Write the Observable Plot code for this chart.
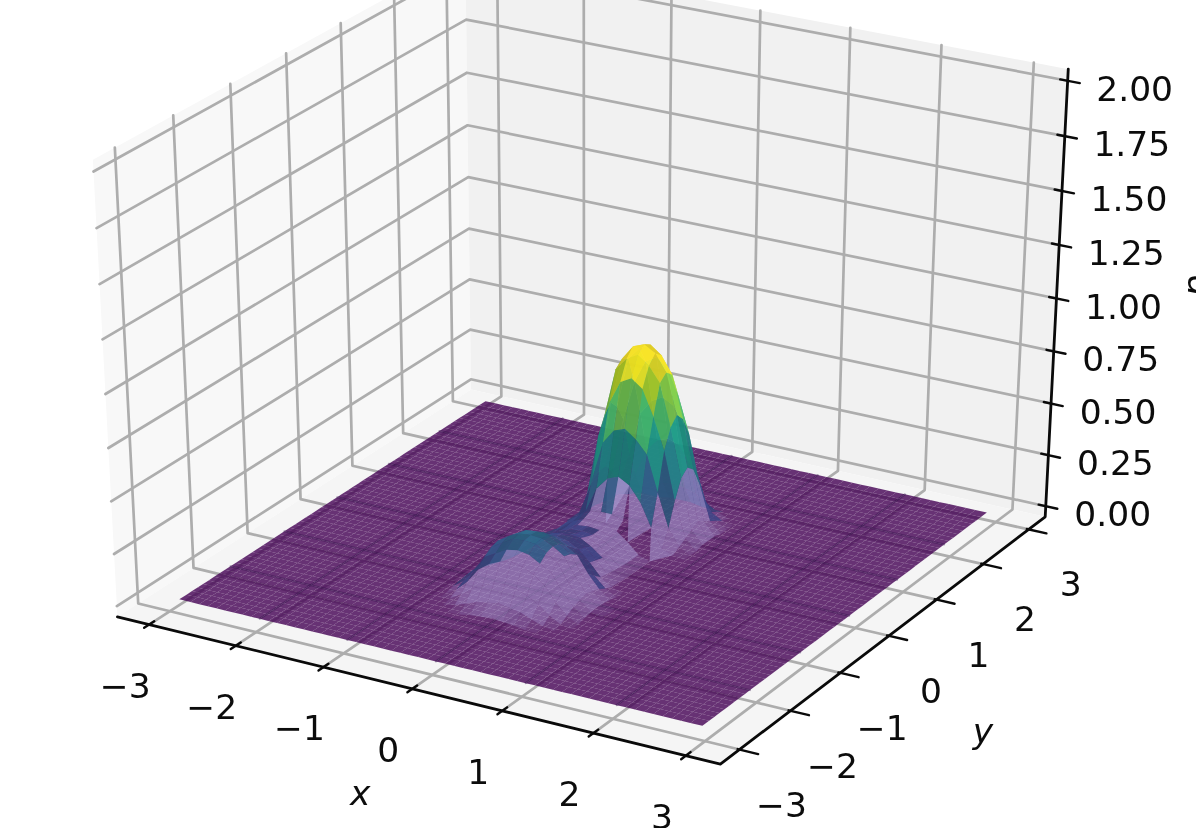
<!DOCTYPE html>
<html><head><meta charset="utf-8">
<script src="https://cdn.jsdelivr.net/npm/d3@7"></script>
<script src="https://cdn.jsdelivr.net/npm/@observablehq/plot@0.6"></script>
<style>html,body{margin:0;padding:0;background:#fff;overflow:hidden}svg{display:block;filter:blur(0.65px)}</style>
</head><body>
<script>
const xTicks = [-3,-2,-1,0,1,2,3];
const yTicks = [-3,-2,-1,0,1,2,3];
const zTicks = [0,0.25,0.5,0.75,1,1.25,1.5,1.75,2];
const xTickLabels = ["−3","−2","−1","0","1","2","3"];
const yTickLabels = ["−3","−2","−1","0","1","2","3"];
const zTickLabels = ["0.00","0.25","0.50","0.75","1.00","1.25","1.50","1.75","2.00"];
const xLim = [-3.37,3.37], yLim = [-3.37,3.37], zLim = [-0.052,2.052];
const floorCoords = [-2.93,-2.8,-2.7,-2.6,-2.5,-2.4,-2.3,-2.2,-2.1,-2,-1.9,-1.8,-1.7,-1.6,-1.5,-1.4,-1.3,-1.2,-1.1,-1,-0.9,-0.8,-0.7,-0.6,-0.5,-0.4,-0.3,-0.2,-0.1,0,0.1,0.2,0.3,0.4,0.5,0.6,0.7,0.8,0.9,1,1.1,1.2,1.3,1.4,1.5,1.6,1.7,1.8,1.9,2,2.1,2.2,2.3,2.4,2.5,2.6,2.7,2.8,2.93];
const bumpXs = [-0.75,-0.625,-0.5,-0.375,-0.25,-0.125,0,0.125,0.25,0.375,0.5,0.625,0.75,0.875,1];
const bumpYs = [1.625,1.5,1.375,1.25,1.125,1,0.875,0.75,0.625,0.5,0.375,0.25,0.125,0,-0.125,-0.25,-0.375,-0.5,-0.625,-0.75,-0.875,-1,-1.125,-1.25,-1.375,-1.5,-1.625,-1.75,-1.875];
const bumpZ = [
 [0,0,0,0,0,0,.01,.01,.01,0,0,0,0,0,0],
 [0,0,0,.01,.04,.07,.10,.11,.10,.085,.05,.02,0,0,0],
 [0,0,.01,.05,.14,.27,.33,.35,.33,.25,.13,.04,.01,0,0],
 [0,0,.01,.09,.26,.47,.54,.57,.54,.46,.28,.12,.03,0,0],
 [0,0,.02,.18,.45,.64,.75,.78,.74,.62,.45,.22,.05,0,0],
 [0,0,.03,.23,.53,.77,.83,.86,.82,.74,.54,.31,.07,.01,0],
 [0,0,.03,.23,.57,.79,.86,.88,.85,.77,.58,.34,.09,.01,0],
 [0,0,.03,.21,.53,.76,.82,.85,.81,.74,.54,.31,.07,.01,0],
 [0,0,.02,.16,.45,.62,.73,.76,.72,.60,.45,.22,.05,0,0],
 [0,0,.01,.09,.26,.45,.52,.54,.50,.44,.27,.11,.03,0,0],
 [0,0,.01,.05,.13,.25,.31,.33,.30,.23,.12,.03,.01,0,0],
 [0,.01,.04,.09,.13,.16,.17,.17,.15,.11,.06,.02,.01,0,0],
 [0,.01,.03,.08,.12,.145,.15,.145,.12,.08,.03,.01,0,0,0],
 [0,.01,.03,.075,.115,.135,.14,.135,.115,.075,.03,.01,0,0,0],
 [0,.01,.03,.075,.115,.135,.14,.135,.115,.075,.03,.01,0,0,0],
 [0,.01,.035,.08,.12,.145,.15,.145,.12,.08,.035,.01,0,0,0],
 [0,.012,.04,.09,.13,.16,.165,.16,.13,.09,.04,.012,0,0,0],
 [0,.015,.045,.10,.15,.18,.185,.18,.15,.10,.045,.015,0,0,0],
 [0,.016,.05,.11,.16,.19,.20,.19,.16,.11,.05,.016,0,0,0],
 [0,.03,.08,.15,.19,.215,.225,.215,.19,.15,.08,.03,0,0,0],
 [.01,.05,.11,.19,.22,.25,.26,.25,.22,.19,.11,.05,.01,0,0],
 [.015,.06,.13,.215,.25,.28,.285,.28,.25,.215,.13,.06,.015,0,0],
 [.02,.07,.14,.225,.26,.285,.29,.285,.26,.225,.14,.07,.02,0,0],
 [.015,.06,.13,.215,.25,.28,.285,.28,.25,.215,.13,.06,.015,0,0],
 [.01,.05,.11,.19,.22,.25,.26,.25,.22,.19,.11,.05,.01,0,0],
 [0,.03,.08,.15,.19,.215,.225,.215,.19,.15,.08,.03,0,0,0],
 [0,.01,.04,.08,.11,.13,.14,.13,.11,.08,.04,.01,0,0,0],
 [0,0,.01,.03,.05,.06,.07,.06,.05,.03,.01,0,0,0,0],
 [0,0,0,0,.01,.015,.02,.015,.01,0,0,0,0,0,0]
];
const zMaxColor = 0.8;

const nv=[0.433,-0.75,0.5], uv=[0.866,0.5,0], vv=[-0.25,0.433,0.866];
function proj(X,Y,Z){
  const d=[(X-xLim[0])/(xLim[1]-xLim[0])-.5,(Y-yLim[0])/(yLim[1]-yLim[0])-.5,(Z-zLim[0])/(zLim[1]-zLim[0])-.5];
  const dot=(a,b)=>a[0]*b[0]+a[1]*b[1]+a[2]*b[2];
  const w=10-dot(nv,d);
  return {sx:dot(uv,d)/w, sy:dot(vv,d)/w, depth:w};
}
const poly=(id,pts,extra)=>pts.map(p=>{const q=proj(...p);return {id,sx:q.sx,sy:q.sy,...extra};});

const [x0,x1]=xLim,[y0,y1]=yLim,[z0,z1]=zLim;
const walls=[
  ...poly("left",[[x0,y0,z0],[x0,y1,z0],[x0,y1,z1],[x0,y0,z1]],{c:"#f8f8f8"}),
  ...poly("back",[[x0,y1,z0],[x1,y1,z0],[x1,y1,z1],[x0,y1,z1]],{c:"#f1f1f1"}),
  ...poly("floor",[[x0,y0,z0],[x1,y0,z0],[x1,y1,z0],[x0,y1,z0]],{c:"#f5f5f5"})
];
const grid=[
  ...xTicks.flatMap(t=>poly("gx"+t,[[t,y0,z0],[t,y1,z0],[t,y1,z1]])),
  ...yTicks.flatMap(t=>poly("gy"+t,[[x1,t,z0],[x0,t,z0],[x0,t,z1]])),
  ...zTicks.flatMap(t=>poly("gz"+t,[[x0,y0,t],[x0,y1,t],[x1,y1,t]]))
];
const fMin=floorCoords[0], fMax=floorCoords[floorCoords.length-1];
const underGrid=[
  ...xTicks.filter(t=>t>fMin&&t<fMax).flatMap(t=>poly("ux"+t,[[t,fMin,0],[t,fMax,0]])),
  ...yTicks.filter(t=>t>fMin&&t<fMax).flatMap(t=>poly("uy"+t,[[fMax,t,0],[fMin,t,0]]))
];
const floor=[];
for(let i=0;i<floorCoords.length-1;i++)for(let j=floorCoords.length-2;j>=0;j--){
  const a=floorCoords[i],b=floorCoords[i+1],c=floorCoords[j],e=floorCoords[j+1];
  floor.push(...poly(`f${i}_${j}`,[[a,c,0],[b,c,0],[b,e,0],[a,e,0]]));
}
const facets=[];
const toothTop=0.375, toothBottom=0.125;
for(let r=0;r+1<bumpYs.length;r++)for(let k=0;k+1<bumpXs.length;k++){
  const pt=(i,j)=>[bumpXs[k+i],bumpYs[r+j],bumpZ[r+j][k+i]];
  const perim=[pt(0,0),pt(1,0),pt(1,1),pt(0,1)];
  const avg=d3.mean(perim,p=>p[2]);
  if(avg<0.008) continue;
  const dx=bumpXs[k+1]-bumpXs[k], dy=bumpYs[r]-bumpYs[r+1];
  const dzdx=((pt(1,0)[2]+pt(1,1)[2])-(pt(0,0)[2]+pt(0,1)[2]))/2/dx;
  const dzdy=((pt(0,0)[2]+pt(1,0)[2])-(pt(0,1)[2]+pt(1,1)[2]))/2/dy;
  const front=dzdy*0.75-dzdx*0.433;
  const ymid=bumpYs[r]-dy/2;
  const inSaddle=ymid>-0.4 && ymid<0.4;
  const pale=(front>(inSaddle?0.02:0.12) && avg<0.24) || (avg<0.05 && front>-0.05);
  const inTeeth=bumpYs[r]<=toothTop && bumpYs[r+1]>=toothBottom && bumpXs[k]>=0.25;
  if(pale && inTeeth) continue;
  const nl=Math.hypot(dzdx,dzdy,1);
  const checker=((k>>1)+(r>>1))%2?0.88:1;
  const sh=checker*(0.88+0.12*Math.max(0,Math.min(1,(-0.6*dzdx-0.2*dzdy+1)/nl)));
  const col=d3.rgb(d3.interpolateViridis(Math.min(1,Math.max(avg/zMaxColor,0.22))));
  const fill=pale?"#a89bd2":d3.rgb(col.r*sh,col.g*sh,col.b*sh).formatHex();
  const depth=proj(bumpXs[k]+dx/2,ymid,avg).depth;
  facets.push({pts:perim,fill,depth,pale,op:pale?Math.min(0.56,avg/0.05*0.56):0.85,id:`b${r}_${k}`});
}
const rT=bumpYs.indexOf(toothTop), rB=bumpYs.indexOf(toothBottom);
for(let k=bumpXs.indexOf(0);k+2<bumpXs.length;k+=2){
  const m=k+1,e=k+2;
  const pts=[[bumpXs[k],toothTop,bumpZ[rT][k]],[bumpXs[m],toothTop,bumpZ[rT][m]],[bumpXs[e],toothTop,bumpZ[rT][e]],[bumpXs[m],toothBottom,bumpZ[rB][m]]];
  if(bumpZ[rT][m]<0.02) continue;
  facets.push({pts,fill:"#a89bd2",depth:proj(bumpXs[m],0.25,0.1).depth,pale:true,op:0.56,id:`t${k}`});
}
facets.sort((a,b)=>b.depth-a.depth);
const bumpSolid=facets.flatMap(f=>poly(f.id,f.pts,{c:f.fill,o:f.op}));

const ticks=[
  ...xTicks.flatMap(t=>poly("tx"+t,[[t,y0+.09,z0],[t,y0-.09,z0]])),
  ...yTicks.flatMap(t=>poly("ty"+t,[[x1-.02,t,z0],[x1+.2,t,z0]])),
  ...zTicks.flatMap(t=>poly("tz"+t,[[x1-.08,y1,t],[x1+.13,y1,t]]))
];
const axes=poly("ax",[[x0,y0,z0],[x1,y0,z0],[x1,y1,z0],[x1,y1,z1]]);
const lab=(vals,labels,f)=>vals.map((t,i)=>{const q=proj(...f(t));return {sx:q.sx,sy:q.sy,label:labels[i]};});
const xLab=lab(xTicks,xTickLabels,t=>[t,y0,z0]);
const yLab=lab(yTicks,yTickLabels,t=>[x1,t,z0]);
const zLab=lab(zTicks,zTickLabels,t=>[x1,y1,t]);
const xName=[{...proj(0,y0,z0),label:"x"}], yName=[{...proj(x1,0,z0),label:"y"}], zName=[{...proj(x1,y1,1),label:"p"}];

const k=6960, cx=588, cy=345, ky=5220;
const font={fontFamily:"DejaVu Sans",fill:"#0c0c0c"};
const chart=Plot.plot({
  width:1196,height:828,margin:0,
  x:{axis:null,domain:[-cx/k,(1196-cx)/k],range:[0,1196]},
  y:{axis:null,domain:[cy/ky,(cy-828)/ky],range:[0,828]},
  color:{type:"identity"},
  style:{background:"#fff"},
  marks:[
    Plot.line(walls,{x:"sx",y:"sy",z:"id",fill:"c",stroke:null}),
    Plot.line(grid,{x:"sx",y:"sy",z:"id",stroke:"#adadad",strokeWidth:2.7}),
    Plot.line(floor,{x:"sx",y:"sy",z:"id",fill:"#440154",fillOpacity:0.8,stroke:null}),
    Plot.line(underGrid,{x:"sx",y:"sy",z:"id",stroke:"#2e0a45",strokeOpacity:0.38,strokeWidth:2}),
    Plot.line(bumpSolid,{x:"sx",y:"sy",z:"id",fill:"c",fillOpacity:"o",stroke:null}),
    Plot.line(axes,{x:"sx",y:"sy",z:"id",stroke:"#0a0a0a",strokeWidth:2.8}),
    Plot.line(ticks,{x:"sx",y:"sy",z:"id",stroke:"#0a0a0a",strokeWidth:2.4}),
    Plot.text(xLab,{x:"sx",y:"sy",text:"label",dx:-24,dy:62,fontSize:34.5,...font}),
    Plot.text(yLab,{x:"sx",y:"sy",text:"label",dx:42,dy:56,fontSize:34.5,...font}),
    Plot.text(zLab,{x:"sx",y:"sy",text:"label",dx:67,dy:9,fontSize:34.5,...font}),
    Plot.text(xName,{x:"sx",y:"sy",text:"label",dx:-52,dy:105,fontSize:34.5,fontStyle:"italic",...font}),
    Plot.text(yName,{x:"sx",y:"sy",text:"label",dx:94,dy:96,fontSize:34.5,fontStyle:"italic",...font}),
    Plot.text(zName,{x:"sx",y:"sy",text:"label",dx:140,dy:-13,fontSize:34.5,fontStyle:"italic",rotate:-90,...font})
  ]
});
document.body.appendChild(chart);
</script>
</body></html>
